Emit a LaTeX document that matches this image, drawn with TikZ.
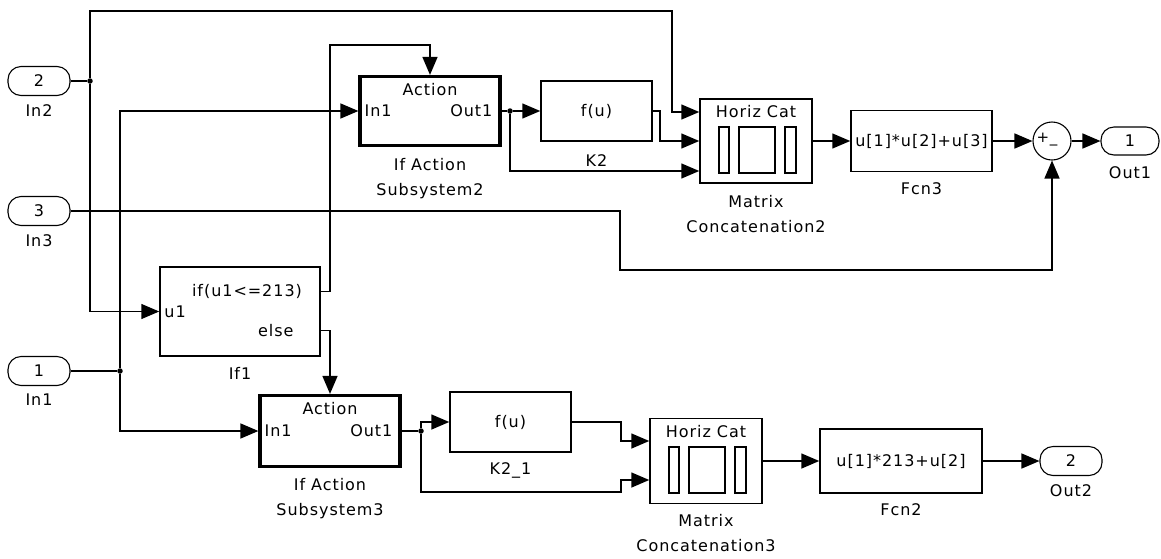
\documentclass[tikz,border=0pt]{standalone}
\usepackage{fontspec}
\setmainfont{DejaVu Sans}[LetterSpace=6]
\usetikzlibrary{%
	arrows.meta,%
	calc,%
	positioning,%
}
\tikzset{
	>={Triangle[length=18pt,width=15pt]},%
	wire/.style={line width=1.5pt},%
	blk/.style={%
			draw,%
			rectangle,%
			line width=1.5pt,%
			inner sep=0,%
			fill=white},%
	subsys/.style={%
			draw,%
			rectangle,%
			line width=3.2pt,%
			inner sep=0,%
			fill=white},%
	port/.style={%
			draw,%
			rectangle,%
			rounded corners=13pt,%
			line width=1.1pt,%
			minimum width=62pt,%
			minimum height=29pt,%
			inner sep=0},%
	lbl/.style={inner sep=0, align=center},%
	bar/.style={draw, line width=1.5pt},%
	dot/.style={circle, fill, inner sep=0, minimum size=5.5pt},%
}

\begin{document}
\begin{tikzpicture}[x=1pt, y=-1pt, font=\fontsize{16}{25}\selectfont]%
	\useasboundingbox (0,0) rectangle (1161,558);

	% inports and outports
	\node[port] (in2) at (39,81) {2};
	\node[port] (in3) at (39,211) {3};
	\node[port] (in1) at (39,371) {1};
	\node[port, minimum width=58pt, minimum height=28pt] (out1) at (1130,141) {1};
	\node[port] (out2) at (1071,461) {2};

	% blocks
	\node[blk, minimum width=160pt, minimum height=89pt] (if1) at (240,311.5) {};
	\node[subsys, minimum width=140pt, minimum height=69pt] (sub2) at (430,111) {};
	\node[subsys, minimum width=140pt, minimum height=71pt] (sub3) at (330,431) {};
	\node[blk, minimum width=111pt, minimum height=60pt] (k2) at (596.5,111) {f(u)};
	\node[blk, minimum width=121pt, minimum height=60pt] (k21) at (510.5,422) {f(u)};
	\node[blk, minimum width=112pt, minimum height=84pt] (cat2) at (756,141) {};
	\node[blk, minimum width=112pt, minimum height=85pt] (cat3) at (706,461) {};
	\node[blk, minimum width=141pt, minimum height=61pt] (fcn3) at (921.5,141) {u[1]*u[2]+u[3]};
	\node[blk, minimum width=162pt, minimum height=64pt] (fcn2) at (901,461) {u[1]*213+u[2]};
	\node[draw, circle, line width=1.1pt, minimum size=38pt, inner sep=0] (sum) at (1052,141) {};
	\node[lbl, font=\fontsize{15}{15}\selectfont] (sumsign) at (1047,140) {+\_};

	% texts inside the blocks
	\node[lbl] (if1cond) at (247,291) {if(u1<=213)};
	\node[lbl, right=5pt of if1.west] (if1in) {u1};
	\node[lbl, anchor=east] (if1else) at ($(if1.north east)+(-27,64)$) {else};
	\node[lbl, below=8pt of sub2.north] (sub2act) {Action};
	\node[lbl, right=6pt of sub2.west] (sub2in) {In1};
	\node[lbl, left=9pt of sub2.east] (sub2out) {Out1};
	\node[lbl, below=8pt of sub3.north] (sub3act) {Action};
	\node[lbl, right=6pt of sub3.west] (sub3in) {In1};
	\node[lbl, left=9pt of sub3.east] (sub3out) {Out1};
	\node[lbl, below=7pt of cat2.north] (cat2txt) {Horiz Cat};
	\node[lbl, below=7pt of cat3.north] (cat3txt) {Horiz Cat};
	\foreach \c in {cat2,cat3}{%
		\draw[bar] ($(\c.center)+(-37,-14)$) rectangle ($(\c.center)+(-27,32)$);
		\draw[bar] ($(\c.center)+(-17,-14)$) rectangle ($(\c.center)+(19,32)$);
		\draw[bar] ($(\c.center)+(29,-14)$) rectangle ($(\c.center)+(40,32)$);
	}

	% labels under the blocks
	\node[lbl, below=8pt of in2] (in2lbl) {In2};
	\node[lbl, below=8pt of in3] (in3lbl) {In3};
	\node[lbl, below=8pt of in1] (in1lbl) {In1};
	\node[lbl, below=10pt of if1] (if1lbl) {If1};
	\node[lbl, below=11pt of sub2] (sub2lbl) {If Action\\Subsystem2};
	\node[lbl, below=13pt of k2] (k2lbl) {K2};
	\node[lbl, below=11pt of cat2] (cat2lbl) {Matrix\\Concatenation2};
	\node[lbl, below=10pt of fcn3] (fcn3lbl) {Fcn3};
	\node[lbl, below=11pt of out1] (out1lbl) {Out1};
	\node[lbl, below=10pt of sub3] (sub3lbl) {If Action\\Subsystem3};
	\node[lbl, below=10pt of k21] (k21lbl) {K2\_1};
	\node[lbl, below=10pt of cat3] (cat3lbl) {Matrix\\Concatenation3};
	\node[lbl, below=10pt of fcn2] (fcn2lbl) {Fcn2};
	\node[lbl, below=8pt of out2] (out2lbl) {Out2};

	% branch points and ports
	\node[dot] (j2) at (90,81) {};
	\node[dot] (j1) at (120,371) {};
	\node[dot] (j3) at (510,111) {};
	\node[dot] (j4) at (421,431) {};
	\coordinate (if1o1) at ($(if1.north east)+(0,25)$);
	\coordinate (if1o2) at ($(if1.north east)+(0,64)$);
	\coordinate (cat2i1) at ($(cat2.west)+(0,-29)$);
	\coordinate (cat2i2) at (cat2.west);
	\coordinate (cat2i3) at ($(cat2.west)+(0,30)$);
	\coordinate (cat3i1) at ($(cat3.west)+(0,-20)$);
	\coordinate (cat3i2) at ($(cat3.west)+(0,19)$);

	% signal lines
	\draw[wire] (in2.east) -- (j2);
	\draw[wire, ->] (j2) |- (672,11) |- (cat2i1);
	\draw[wire, ->] (j2) |- (if1.west);
	\draw[wire, ->] (in3.east) -| (620,270) -| (sum.south);
	\draw[wire] (in1.east) -- (j1);
	\draw[wire, ->] (j1) |- (sub2.west);
	\draw[wire, ->] (j1) |- (sub3.west);
	\draw[wire, ->] (if1o1) -| (330,45) -| (sub2.north);
	\draw[wire, ->] (if1o2) -| (sub3.north);
	\draw[wire] (sub2.east) -- (j3);
	\draw[wire, ->] (j3) -- (k2.west);
	\draw[wire, ->] (j3) |- (cat2i3);
	\draw[wire, ->] (k2.east) -| (660,141) -- (cat2i2);
	\draw[wire, ->] (cat2.east) -- (fcn3.west |- cat2.east);
	\draw[wire, ->] (fcn3.east) -- (sum.west);
	\draw[wire, ->] (sum.east) -- (out1.west);
	\draw[wire] (sub3.east) -- (j4);
	\draw[wire, ->] (j4) |- (k21.west);
	\draw[wire, ->] (j4) |- (621,492) |- (cat3i2);
	\draw[wire, ->] (k21.east) -| (621,441) -- (cat3i1);
	\draw[wire, ->] (cat3.east) -- (fcn2.west |- cat3.east);
	\draw[wire, ->] (fcn2.east) -- (out2.west);
\end{tikzpicture}
\end{document}
